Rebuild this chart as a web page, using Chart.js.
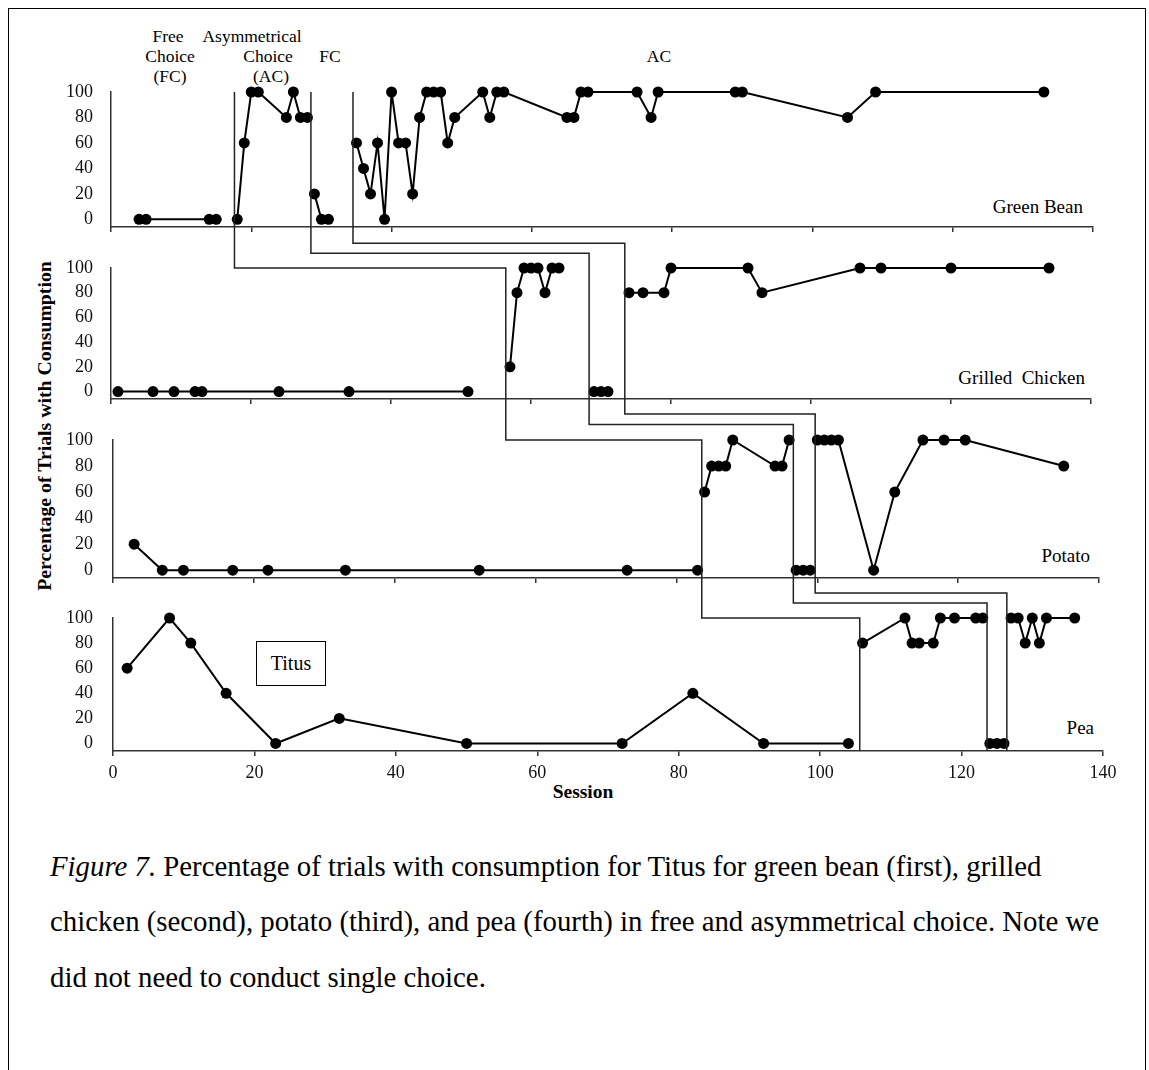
<!DOCTYPE html>
<html>
<head>
<meta charset="utf-8">
<script src="https://cdn.jsdelivr.net/npm/chart.js@4.4.1/dist/chart.umd.min.js"></script>
<style>
  body { margin: 0; background: #fff; font-family: "Liberation Serif", "Times New Roman", serif; color: #000; }
  #page { position: relative; width: 1149px; height: 1070px; overflow: hidden; }
  #frame { position: absolute; left: 8px; top: 8px; width: 1136px; height: 1100px; border: 1.5px solid #000; }
  .t { position: absolute; white-space: nowrap; line-height: 1; transform: translate(-50%, -50%); }
  .phase { font-size: 17.5px; }
  .food { font-size: 19px; transform: translate(-100%, -50%); }
  .cap { position: absolute; left: 50px; white-space: nowrap; font-size: 28.8px; line-height: 1; transform: translateY(-50%); }
  #titus { position: absolute; left: 256px; top: 641px; width: 68px; height: 43px; border: 1.5px solid #000;
           font-size: 20px; display: flex; align-items: center; justify-content: center; }
</style>
</head>
<body>
<div id="page">
  <div id="frame"></div>

  <div class="t phase" style="left:168px;top:37px">Free</div>
  <div class="t phase" style="left:170px;top:57px">Choice</div>
  <div class="t phase" style="left:170px;top:77px">(FC)</div>
  <div class="t phase" style="left:252px;top:37px">Asymmetrical</div>
  <div class="t phase" style="left:268px;top:57px">Choice</div>
  <div class="t phase" style="left:271px;top:77px">(AC)</div>
  <div class="t phase" style="left:330px;top:57px">FC</div>
  <div class="t phase" style="left:659px;top:57px">AC</div>

  <div class="t food" style="left:1083px;top:206px">Green Bean</div>
  <div class="t food" style="left:1085px;top:377px">Grilled&nbsp; Chicken</div>
  <div class="t food" style="left:1090px;top:555px">Potato</div>
  <div class="t food" style="left:1094px;top:727px">Pea</div>

  <div id="titus">Titus</div>

  <div class="t" style="left:45px;top:426px;font-size:19.8px;font-weight:bold;transform:translate(-50%,-50%) rotate(-90deg)">Percentage of Trials with Consumption</div>
  <div class="t" style="left:583px;top:792px;font-size:19.5px;font-weight:bold">Session</div>

  <div class="cap" style="top:866px"><i>Figure 7.</i> Percentage of trials with consumption for Titus for green bean (first), grilled</div>
  <div class="cap" style="top:921px">chicken (second), potato (third), and pea (fourth) in free and asymmetrical choice. Note we</div>
  <div class="cap" style="top:977px">did not need to conduct single choice.</div>
</div>

<script>
const sessionTicks = [0, 20, 40, 60, 80, 100, 120, 140];
const pctTicks = [0, 20, 40, 60, 80, 100];

const greenBeanSessions = [4, 5, 14, 15, 18, 19, 20, 21, 25, 26, 27, 28, 29, 30, 31,
  35, 36, 37, 38, 39, 40, 41, 42, 43, 44, 45, 46, 47, 48, 49, 53, 54, 55, 56,
  65, 66, 67, 68, 75, 77, 78, 89, 90, 105, 109, 133];
const greenBeanPct = [0, 0, 0, 0, 0, 60, 100, 100, 80, 100, 80, 80, 20, 0, 0,
  60, 40, 20, 60, 0, 100, 60, 60, 20, 80, 100, 100, 100, 60, 80, 100, 80, 100, 100,
  80, 80, 100, 100, 100, 80, 100, 100, 100, 80, 100, 100];

const chickenSessions = [1, 6, 9, 12, 13, 24, 34, 51, 57, 58, 59, 60, 61, 62, 63, 64,
  69, 70, 71, 74, 76, 79, 80, 91, 93, 107, 110, 120, 134];
const chickenPct = [0, 0, 0, 0, 0, 0, 0, 0, 20, 80, 100, 100, 100, 80, 100, 100,
  0, 0, 0, 80, 80, 80, 100, 100, 80, 100, 100, 100, 100];

const potatoSessions = [3, 7, 10, 17, 22, 33, 52, 73, 83, 84, 85, 86, 87, 88, 94, 95, 96,
  97, 98, 99, 100, 101, 102, 103, 108, 111, 115, 118, 121, 135];
const potatoPct = [20, 0, 0, 0, 0, 0, 0, 0, 0, 60, 80, 80, 80, 100, 80, 80, 100,
  0, 0, 0, 100, 100, 100, 100, 0, 60, 100, 100, 100, 80];

const peaSessions = [2, 8, 11, 16, 23, 32, 50, 72, 82, 92, 104, 106, 112, 113, 114, 116, 117,
  119, 122, 123, 124, 125, 126, 127, 128, 129, 130, 131, 132, 136];
const peaPct = [60, 100, 80, 40, 0, 20, 0, 0, 40, 0, 0, 80, 100, 80, 80, 80, 100,
  100, 100, 100, 0, 0, 0, 100, 100, 80, 100, 80, 100, 100];

// phase change lines: session where each line crosses panel 1..4
const phaseLine1 = [17.6, 56.4, 83.6, 105.6];
const phaseLine2 = [28.5, 68.3, 96.6, 123.6];
const phaseLine3 = [34.5, 73.4, 99.7, 126.4];
const phaseStepLevels = [100, 112, 120];

const yMin = -6;
const page = document.getElementById('page');

// plot area of each panel in page pixels
const panels = [
  { sessions: greenBeanSessions, pct: greenBeanPct, left: 111, right: 1093, top: 92, bottom: 227, labels: false },
  { sessions: chickenSessions, pct: chickenPct, left: 111, right: 1091, top: 268, bottom: 399, labels: false },
  { sessions: potatoSessions, pct: potatoPct, left: 113, right: 1099, top: 440, bottom: 578, labels: false },
  { sessions: peaSessions, pct: peaPct, left: 113, right: 1103, top: 618, bottom: 751, labels: true }
];

function segments(xs, ys, cuts) {
  const out = [];
  xs.forEach((x, i) => {
    const k = cuts.filter(c => c < x).length;
    (out[k] = out[k] || []).push({ x: x, y: ys[i] });
  });
  return out.filter(Boolean);
}

const font = { family: 'Liberation Serif', size: 18, lineHeight: 1 };
const charts = [];
const offsets = [];

panels.forEach((p, idx) => {
  const padTop = 12, padRight = 30;
  const axisH = p.labels ? 40 : 10;
  const w = p.right + padRight;
  const h = p.bottom - p.top + padTop + axisH;

  const cv = document.createElement('canvas');
  cv.width = w;
  cv.height = h;
  cv.style.cssText = `position:absolute;left:0;top:0;width:${w}px;height:${h}px`;
  page.appendChild(cv);

  const cuts = [phaseLine1[idx], phaseLine2[idx], phaseLine3[idx]];
  const datasets = segments(p.sessions, p.pct, cuts).map(seg => ({
    data: seg,
    borderColor: '#000',
    backgroundColor: '#000',
    borderWidth: 2,
    pointRadius: 5.5,
    pointBorderWidth: 0,
    pointBackgroundColor: '#000',
    tension: 0,
    clip: false
  }));

  const chart = new Chart(cv, {
    type: 'line',
    data: { datasets: datasets },
    options: {
      responsive: false,
      maintainAspectRatio: false,
      animation: false,
      layout: { padding: { top: padTop, right: padRight, bottom: 0, left: 0 } },
      plugins: { legend: { display: false }, tooltip: { enabled: false } },
      scales: {
        x: {
          type: 'linear', min: 0, max: 140,
          afterBuildTicks: s => { s.ticks = sessionTicks.map(v => ({ value: v })); },
          afterFit: s => { s.height = axisH; },
          grid: { drawOnChartArea: false, drawTicks: true, tickLength: 5, color: '#333', lineWidth: 1.5 },
          border: { display: true, color: '#333', width: 1.5 },
          ticks: { display: p.labels, padding: 8, color: '#111', font: font, maxRotation: 0, autoSkip: false }
        },
        y: {
          type: 'linear', min: yMin, max: 100,
          afterBuildTicks: s => { s.ticks = pctTicks.map(v => ({ value: v })); },
          afterFit: s => { s.width = p.left; },
          grid: { display: false, drawTicks: false },
          border: { display: true, color: '#333', width: 1.5 },
          ticks: { padding: p.left - 93, color: '#111', font: font, autoSkip: false }
        }
      }
    }
  });

  // fit the canvas so the plot area lands on the measured box
  const ca = chart.chartArea;
  const newW = Math.round(w + (p.right - p.left) - (ca.right - ca.left));
  const newH = Math.round(h + (p.bottom - p.top) - (ca.bottom - ca.top));
  chart.resize(newW, newH);
  const ca2 = chart.chartArea;
  const off = { left: p.left - ca2.left, top: p.top - ca2.top };
  cv.style.left = off.left + 'px';
  cv.style.top = off.top + 'px';
  offsets.push(off);
  charts.push(chart);
});

// phase change lines drawn on top, stepping through each panel's scales
const ov = document.createElement('canvas');
ov.width = 1149;
ov.height = 1070;
ov.style.cssText = 'position:absolute;left:0;top:0;pointer-events:none';
page.appendChild(ov);
const ctx = ov.getContext('2d');
const px = (i, v) => charts[i].scales.x.getPixelForValue(v) + offsets[i].left;
const py = (i, v) => charts[i].scales.y.getPixelForValue(v) + offsets[i].top;

ctx.strokeStyle = '#222';
ctx.lineWidth = 1.5;
[phaseLine1, phaseLine2, phaseLine3].forEach((line, k) => {
  ctx.beginPath();
  let x = px(0, line[0]);
  ctx.moveTo(x, py(0, 100));
  for (let i = 1; i < 4; i++) {
    const y = py(i, phaseStepLevels[k]);
    ctx.lineTo(x, y);
    x = px(i, line[i]);
    ctx.lineTo(x, y);
  }
  ctx.lineTo(x, py(3, yMin));
  ctx.stroke();
});
</script>
</body>
</html>
